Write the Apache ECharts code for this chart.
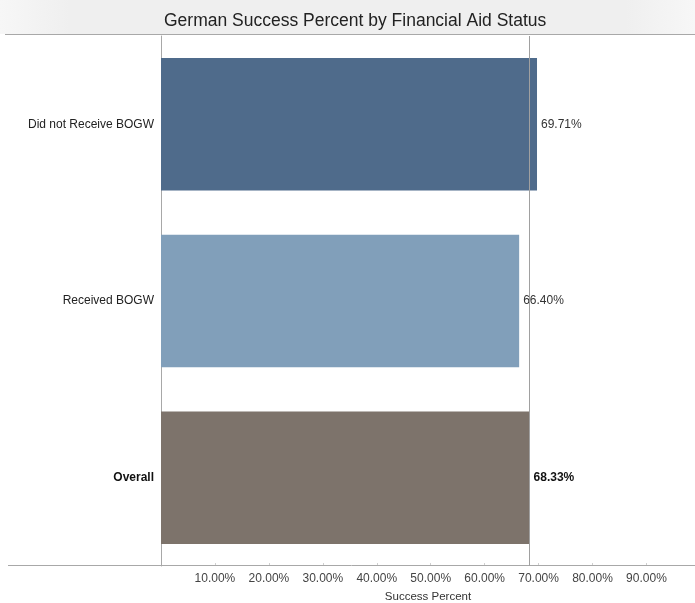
<!DOCTYPE html>
<html>
<head>
<meta charset="utf-8">
<script src="https://cdn.jsdelivr.net/npm/echarts@6/dist/echarts.min.js"></script>
<style>html,body{margin:0;padding:0;background:#fff;}#c{width:695px;height:603px;}</style>
</head>
<body>
<div id="c"></div>
<script>
var categories = ['Did not Receive BOGW', 'Received BOGW', 'Overall'];
var successPercent = [69.71, 66.40, 68.33];
var overallReference = 68.33;
var barColors = ['#4f6b8b', '#819fba', '#7d736b'];
var xTicks = { min: 0, max: 99, interval: 10 };

var chart = echarts.init(document.getElementById('c'));
var FONT = 'Liberation Sans, Arial, sans-serif';

chart.setOption({
  animation: false,
  textStyle: { fontFamily: FONT },
  title: {
    text: 'German Success Percent by Financial Aid Status',
    left: 159,
    top: 7,
    textStyle: { fontSize: 17.5, fontWeight: 'normal', color: '#222', fontFamily: FONT }
  },
  graphic: [
    { type: 'rect', z: -10, shape: { x: 0, y: 0, width: 695, height: 34 },
      style: { fill: new echarts.graphic.LinearGradient(0, 0, 1, 0, [
        { offset: 0, color: '#f7f7f7' }, { offset: 0.1, color: '#efefef' },
        { offset: 0.9, color: '#efefef' }, { offset: 1, color: '#f7f7f7' }]) } },
    { type: 'line', z: 5, shape: { x1: 5, y1: 34.5, x2: 695, y2: 34.5 }, style: { stroke: '#a8a8a8', lineWidth: 1 } },
    { type: 'line', z: 5, shape: { x1: 8, y1: 565.5, x2: 695, y2: 565.5 }, style: { stroke: '#a8a8a8', lineWidth: 1 } }
  ],
  grid: { left: 161, right: 0, top: 36, bottom: 37, containLabel: false, outerBoundsMode: 'none' },
  xAxis: {
    type: 'value',
    min: xTicks.min, max: xTicks.max, interval: xTicks.interval,
    name: 'Success Percent',
    nameLocation: 'middle',
    nameGap: 25,
    nameTextStyle: { fontSize: 11.5, color: '#333', fontFamily: FONT },
    axisLine: { show: false },
    axisTick: { show: true, inside: true, length: 3, lineStyle: { color: '#cfcfcf' } },
    splitLine: { show: false },
    axisLabel: {
      showMinLabel: false,
      showMaxLabel: false,
      fontSize: 12, color: '#444', margin: 7,
      formatter: function (v) { return (v === 0 || v === xTicks.max) ? '' : v.toFixed(2) + '%'; }
    }
  },
  yAxis: {
    type: 'category',
    data: categories,
    inverse: true,
    axisLine: { show: true, lineStyle: { color: '#a8a8a8' } },
    axisTick: { show: false },
    axisLabel: {
      fontSize: 12, color: '#222', margin: 7,
      formatter: function (v) { return v === 'Overall' ? '{b|' + v + '}' : v; },
      rich: { b: { fontWeight: 'bold', fontSize: 12, color: '#111', fontFamily: FONT } }
    }
  },
  series: [{
    type: 'bar',
    barCategoryGap: '25%',
    data: successPercent.map(function (v, i) {
      return {
        value: v,
        itemStyle: { color: barColors[i] },
        label: { fontWeight: categories[i] === 'Overall' ? 'bold' : 'normal', color: categories[i] === 'Overall' ? '#111' : '#333' }
      };
    }),
    label: {
      show: true, position: 'right', distance: 4, fontSize: 12, fontFamily: FONT,
      formatter: function (p) { return p.value.toFixed(2) + '%'; }
    },
    markLine: {
      silent: true,
      symbol: 'none',
      label: { show: false },
      lineStyle: { color: '#a0a0a0', type: 'solid', width: 1 },
      data: [{ xAxis: overallReference }],
      z: 10
    }
  }]
});
</script>
</body>
</html>
